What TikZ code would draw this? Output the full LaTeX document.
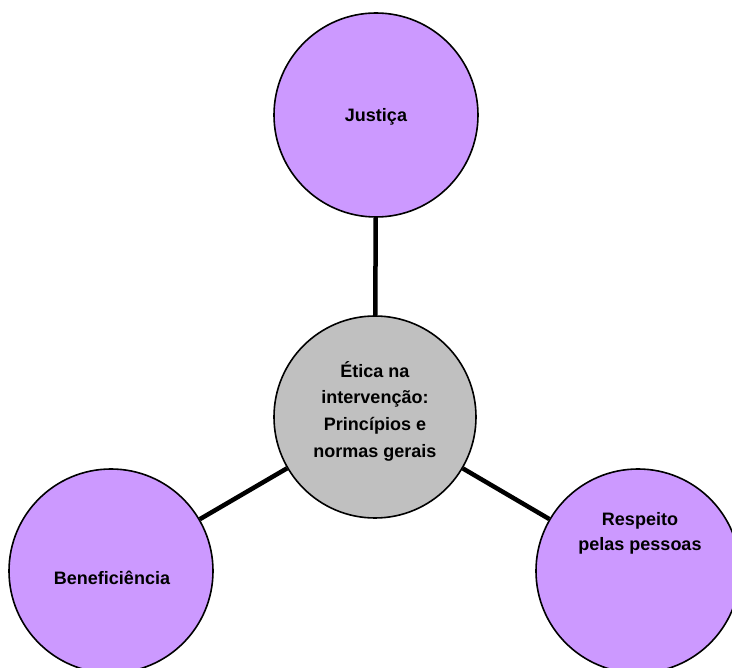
\documentclass[tikz,border=0pt]{standalone}
\usepackage{fontspec}
\setmainfont{Liberation Sans}
\usepackage{tikz}
\definecolor{lilas}{RGB}{204,153,255}
\definecolor{cinza}{RGB}{192,192,192}

\begin{document}
\begin{tikzpicture}[x=1pt, y=-1pt]

\tikzset{
    principio/.style={circle, draw=black, line width=1.6pt, fill=lilas, minimum size=204pt, inner sep=0pt},
    centro/.style={principio, fill=cinza, minimum size=202pt},
    ligacao/.style={line width=4.5pt, black},
    rotulo/.style={font=\fontsize{18}{27}\selectfont\bfseries, text=black, align=center, anchor=base}
}

\useasboundingbox (0, 0) rectangle (732, 668);

% =============================================================================
% CIRCULOS
% =============================================================================
\node[centro] (etica) at (375, 417) {};
\node[principio] (justica) at (376, 115) {};
\node[principio] (benef) at (111, 571) {};
\node[principio] (respeito) at (638, 571) {};

% =============================================================================
% LIGACOES
% =============================================================================
\draw[ligacao] (justica) -- (etica);
\draw[ligacao] (benef) -- (etica);
\draw[ligacao] (respeito) -- (etica);

% =============================================================================
% TEXTOS (ancora na linha de base da ultima linha)
% =============================================================================
\node[rotulo] (t-etica) at (375, 458) {Ética na\\intervenção:\\Princípios e\\normas gerais};
\node[rotulo] (t-justica) at (376, 122) {Justiça};
\node[rotulo] (t-benef) at (112, 585) {Beneficiência};
\node[rotulo, font=\fontsize{18}{25}\selectfont\bfseries] (t-respeito) at (640, 551) {Respeito\\pelas pessoas};

\end{tikzpicture}
\end{document}
